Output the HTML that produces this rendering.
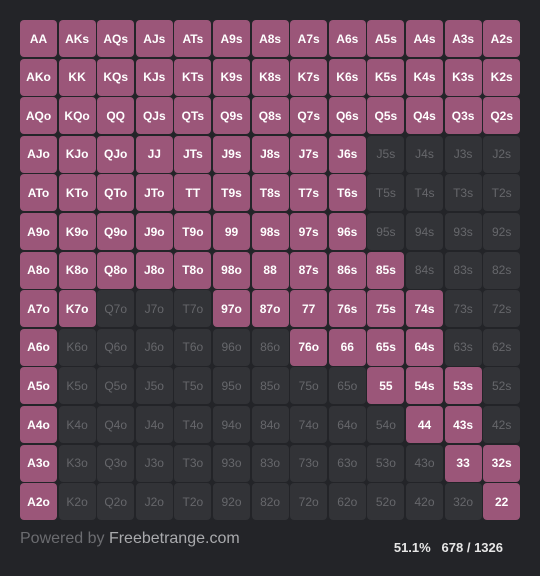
<!DOCTYPE html>
<html><head><meta charset="utf-8"><style>
html,body{margin:0;padding:0;background:#232428;}
body{width:540px;height:576px;position:relative;overflow:hidden;font-family:"Liberation Sans",Arial,sans-serif;}
#grid{position:absolute;left:20px;top:20px;width:502px;height:502px;}
.c{position:absolute;width:37px;height:37px;border-radius:4px;background:#323337;color:#66676b;font-size:12px;display:flex;align-items:center;justify-content:center;}
.c.on{background:#9b5679;color:#fff;font-weight:bold;}
#pw{position:absolute;left:20px;top:530px;font-size:16px;color:#6b6c70;}
#pw span{color:#a9aaad;}
#st{position:absolute;right:37px;top:540px;font-size:13px;font-weight:bold;color:#e6e6e6;}
</style></head><body>
<div id="grid"></div>
<div id="pw">Powered by <span>Freebetrange.com</span></div>
<div id="st">51.1%&nbsp;&nbsp;&nbsp;678 / 1326</div>
<script>
const ranks = ["A","K","Q","J","T","9","8","7","6","5","4","3","2"];
const selectedRows = [
"1111111111111",
"1111111111111",
"1111111111111",
"1111111110000",
"1111111110000",
"1111111110000",
"1111111111000",
"1100011111100",
"1000000111100",
"1000000001110",
"1000000000110",
"1000000000011",
"1000000000001"];
const grid = document.getElementById('grid');
const pitch = 38.6;
for (let r = 0; r < 13; r++) {
  for (let c = 0; c < 13; c++) {
    let label;
    if (r === c) label = ranks[r] + ranks[c];
    else if (c > r) label = ranks[r] + ranks[c] + 's';
    else label = ranks[c] + ranks[r] + 'o';
    const el = document.createElement('div');
    el.className = 'c' + (selectedRows[r][c] === '1' ? ' on' : '');
    el.style.left = (c * pitch) + 'px';
    el.style.top = (r * pitch) + 'px';
    el.textContent = label;
    
    
    grid.appendChild(el);
  }
}
</script>
</body></html>
